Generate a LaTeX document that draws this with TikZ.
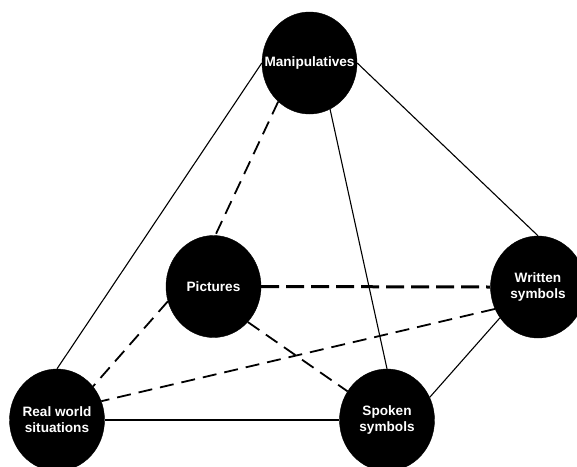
\documentclass[tikz,border=0pt]{standalone}
\usepackage{fontspec}
\setmainfont{Liberation Sans}
\usetikzlibrary{shapes.geometric}
\begin{document}
\begin{tikzpicture}[x=1pt,y=-1pt,
  bub/.style={ellipse,fill=black,draw=black,inner sep=0pt,minimum width=95pt,minimum height=102pt},
  lbl/.style={text=white,font=\fontsize{13.6}{16}\selectfont\bfseries,align=center,inner sep=0pt},
  thin/.style={line width=1.1pt},
  thick/.style={line width=2.6pt},
  dsh/.style={line width=1.8pt,dash pattern=on 14pt off 8pt},
  bigdsh/.style={line width=3pt,dash pattern=on 18pt off 7pt}]
\useasboundingbox (0,0) rectangle (577,466);
\fill[white] (0,0) rectangle (577,466);
\node[bub] (man) at (309.5,63) {};
\node[bub] (pic) at (213.5,286.5) {};
\node[bub] (wri) at (538,287) {};
\node[bub] (rw) at (57,420) {};
\node[bub] (spo) at (387,420) {};
% connectors
\draw[thin] (man.180) -- (rw.north);
\draw[thin] (man.east) -- (wri.north);
\draw[thin] (man.-66) -- (spo.north);
\draw[dsh] (man.-129) -- (pic.88);
\draw[bigdsh] (pic.east) -- (wri.west);
\draw[dsh] (pic.198) -- (rw.43);
\draw[dsh] (pic.-46) -- (spo.144);
\draw[dsh] (wri.207) -- (rw.23);
\draw[thin] (wri.219) -- (spo.28);
\draw[thick] (rw.east) -- (spo.west);
% labels
\node[lbl] (manT) at (man) {Manipulatives};
\node[lbl] (picT) at (pic) {Pictures};
\node[lbl] (wriT) at (wri) {Written\\symbols};
\node[lbl] (rwT) at (rw) {Real world\\situations};
\node[lbl] (spoT) at (spo) {Spoken\\symbols};
\end{tikzpicture}
\end{document}
